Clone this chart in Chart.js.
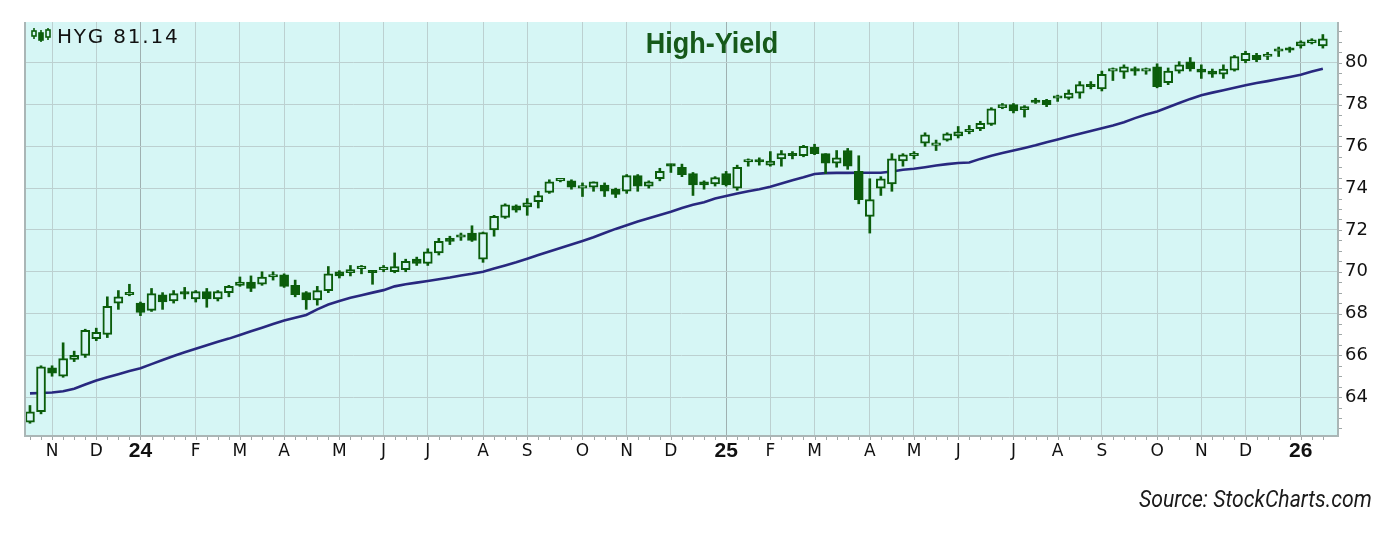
<!DOCTYPE html>
<html><head><meta charset="utf-8">
<script src="https://cdn.jsdelivr.net/npm/chart.js@4.4.0/dist/chart.umd.min.js"></script>
<style>
html,body{margin:0;padding:0;background:#fff;width:1400px;height:541px;overflow:hidden;}
#wrap{position:relative;width:1400px;height:541px;}
canvas{position:absolute;left:0;top:0;}
.t{position:absolute;white-space:nowrap;}
#title{left:712px;top:28px;font:bold 30px/30px "Liberation Sans",Arial,sans-serif;color:#16591a;transform:translateX(-50%) scaleX(0.9);}
#legend{left:57px;top:26px;font:20px/20px "DejaVu Sans",sans-serif;letter-spacing:1.8px;color:#111;}
#icon{position:absolute;left:30px;top:27px;}
#source{left:1139px;top:487px;font:italic 24px/24px Roboto,sans-serif;color:#1a1a1a;transform-origin:0 50%;transform:scaleX(0.885);}
</style></head>
<body><div id="wrap">
<canvas id="c" width="1400" height="541"></canvas>
<svg id="icon" width="22" height="16" viewBox="0 0 22 16">
 <g stroke="#0b5d0b" stroke-width="1.6" fill="none">
  <line x1="4" y1="1" x2="4" y2="12"/><rect x="2" y="4" width="4" height="5" fill="#d6f6f5"/>
  <line x1="11" y1="3" x2="11" y2="15"/><rect x="9" y="6" width="4" height="7" fill="#0b5d0b"/>
  <line x1="18" y1="1" x2="18" y2="13"/><rect x="16" y="3" width="4" height="7" fill="#d6f6f5"/>
 </g>
</svg>
<div class="t" id="legend">HYG 81.14</div>
<div class="t" id="title">High-Yield</div>
<div class="t" id="source">Source: StockCharts.com</div>
</div>
<script>
// Weekly bars, week index 0 = week of 2023-10-23
const open  = [62.8,63.3,65.4,65.0,65.8,66.0,66.8,67.0,68.5,68.9,68.5,68.15,68.9,68.6,69.0,68.7,69.05,68.7,69.0,69.35,
69.5,69.4,69.75,69.85,69.35,69.0,68.65,69.1,70.0,69.95,70.15,70.0,70.1,70.0,70.1,70.6,70.4,70.9,71.6,71.65,
71.85,70.6,72.0,72.6,73.15,73.1,73.35,73.8,74.35,74.35,74.0,74.05,74.15,73.95,73.85,74.6,74.1,74.45,75.1,75.0,
74.7,74.3,74.2,74.7,74.0,75.25,75.3,75.1,75.4,75.6,75.55,75.95,75.65,75.2,75.8,74.8,72.65,74.0,74.2,75.3,
75.55,76.15,76.05,76.3,76.5,76.7,76.85,77.05,77.85,78.0,77.75,78.2,78.2,78.3,78.3,78.55,78.95,78.75,79.6,79.55,
79.65,79.6,79.8,79.05,79.6,80.05,79.7,79.6,79.45,79.65,80.1,80.35,80.3,80.55,80.7,80.8,80.95,80.8];
const high  = [63.6,65.5,65.5,66.6,66.2,67.25,67.3,68.8,69.1,69.4,68.55,69.2,69.0,69.1,69.25,69.1,69.2,69.1,69.35,69.75,
69.8,70.0,70.0,69.9,69.6,69.05,69.3,70.25,70.05,70.3,70.3,70.05,70.3,70.9,70.6,70.7,71.1,71.6,71.7,71.85,
72.2,71.9,72.7,73.25,73.2,73.5,73.85,74.4,74.45,74.4,74.25,74.3,74.25,74.0,74.65,74.65,74.35,74.95,75.15,75.15,
74.75,74.35,74.55,74.8,75.1,75.4,75.45,75.75,75.8,75.75,76.05,76.1,75.65,75.8,75.9,75.55,74.45,74.55,75.65,75.65,
75.75,76.65,76.3,76.65,76.95,77.0,77.2,77.85,78.05,78.05,77.95,78.3,78.25,78.45,78.7,79.1,79.1,79.6,79.75,79.9,
79.8,79.75,79.95,79.75,80.05,80.25,79.9,79.7,79.9,80.35,80.55,80.45,80.5,80.75,80.75,81.05,81.15,81.35];
const low   = [62.75,63.2,65.0,64.95,65.7,65.9,66.7,66.85,68.2,68.85,67.9,68.1,68.2,68.5,68.7,68.55,68.3,68.6,68.8,69.3,
69.05,69.35,69.6,69.25,68.8,68.2,68.4,69.0,69.7,69.8,69.9,69.4,70.0,69.95,70.0,70.3,70.3,70.8,71.3,71.5,
71.45,70.45,71.7,72.55,72.85,72.7,73.05,73.75,74.3,73.95,73.6,73.85,73.6,73.55,73.75,73.85,74.0,74.35,74.75,74.55,
73.65,73.95,74.1,74.1,73.9,75.05,75.1,75.05,75.05,75.4,75.5,75.6,74.7,75.0,74.9,73.25,71.85,73.65,73.85,75.05,
75.4,76.0,75.8,76.25,76.4,76.6,76.75,77.0,77.8,77.6,77.4,78.05,77.9,78.15,78.25,78.3,78.75,78.65,79.15,79.25,
79.4,79.45,78.8,78.95,79.5,79.6,79.25,79.3,79.25,79.6,80.0,80.05,80.15,80.3,80.5,80.7,80.9,80.7];
const close = [63.3,65.45,65.15,65.85,66.0,67.2,67.1,68.35,68.8,68.95,68.05,68.95,68.55,68.95,68.93,69.05,68.7,69.05,69.3,69.5,
69.2,69.75,69.83,69.3,68.9,68.65,69.1,69.9,69.8,70.1,70.18,69.95,70.17,70.25,70.5,70.4,70.95,71.45,71.45,71.72,
71.5,71.87,72.65,73.2,72.95,73.3,73.65,74.3,74.42,74.05,74.03,74.3,73.85,73.7,74.6,74.1,74.3,74.8,75.05,74.65,
74.15,74.15,74.5,74.15,75.0,75.32,75.25,75.3,75.65,75.55,76.0,75.65,75.2,75.45,75.05,73.45,73.45,74.45,75.4,75.6,
75.62,76.55,76.07,76.6,76.7,76.72,77.1,77.8,78.0,77.7,77.9,78.1,78.0,78.32,78.55,78.95,78.85,79.45,79.62,79.8,
79.6,79.67,78.85,79.6,79.9,79.7,79.55,79.45,79.7,80.3,80.45,80.15,80.35,80.6,80.6,81.0,81.1,81.14];
const ma    = [64.18,64.2,64.22,64.28,64.4,64.6,64.8,64.95,65.1,65.25,65.38,65.58,65.78,65.97,66.15,66.32,66.48,66.65,66.8,66.97,
67.15,67.32,67.5,67.67,67.8,67.93,68.2,68.43,68.6,68.75,68.88,69.0,69.12,69.3,69.4,69.48,69.56,69.64,69.72,69.82,
69.9,70.0,70.15,70.3,70.45,70.62,70.8,70.97,71.14,71.3,71.47,71.65,71.85,72.05,72.22,72.4,72.56,72.72,72.87,73.05,
73.2,73.33,73.5,73.62,73.74,73.85,73.95,74.07,74.22,74.38,74.52,74.68,74.72,74.73,74.73,74.74,74.74,74.74,74.8,74.88,
74.93,75.0,75.08,75.15,75.2,75.23,75.4,75.55,75.68,75.8,75.92,76.05,76.2,76.33,76.47,76.6,76.73,76.87,77.0,77.15,
77.35,77.52,77.67,77.87,78.07,78.27,78.45,78.57,78.68,78.8,78.92,79.03,79.12,79.22,79.32,79.43,79.58,79.71];
// First bar of each month (week index) and its axis label
const monthTickWeek = [2,6,10,15,19,23,28,32,36,41,45,50,54,58,63,67,71,76,80,84,89,93,97,102,106,110,115];
const monthLabels   = ['N','D','24','F','M','A','M','J','J','A','S','O','N','D','25','F','M','A','M','J','J','A','S','O','N','D','26'];
const priceTicks    = [64,66,68,70,72,74,76,78,80];

const GREEN = '#0b5d0b';
const PLOT_BG = '#d6f6f5';
const isYear = i => monthLabels[i] && monthLabels[i].length === 2;

const decor = {
  id: 'decor',
  beforeDraw(chart) {
    const {ctx, chartArea: a} = chart;
    ctx.save();
    ctx.fillStyle = PLOT_BG;
    ctx.fillRect(a.left, a.top, a.right - a.left, a.bottom - a.top);
    ctx.restore();
  },
  afterDraw(chart) {
    const {ctx, chartArea: a, scales} = chart;
    ctx.save();
    ctx.strokeStyle = '#aab6b6';
    ctx.lineWidth = 2;
    ctx.beginPath();
    ctx.moveTo(a.left, a.top); ctx.lineTo(a.left, a.bottom);
    ctx.lineTo(a.right, a.bottom); ctx.lineTo(a.right, a.top);
    ctx.stroke();
    ctx.strokeStyle = '#a0a8a8';
    ctx.lineWidth = 1;
    ctx.beginPath();
    for (let i = 0; i < open.length; i++) {
      const x = Math.round(scales.x.getPixelForValue(i)) + 0.5;
      ctx.moveTo(x, a.bottom + 1); ctx.lineTo(x, a.bottom + 4);
    }
    for (let v = 62.5; v < 82; v += 0.5) {
      const y = Math.round(scales.y.getPixelForValue(v)) + 0.5;
      if (y < a.top || y > a.bottom) continue;
      ctx.moveTo(a.right + 1, y); ctx.lineTo(a.right + 4, y);
    }
    ctx.stroke();
    ctx.restore();
  }
};

new Chart(document.getElementById('c').getContext('2d'), {
  type: 'bar',
  data: {
    datasets: [
      { type: 'line', data: ma.map((v, i) => ({x: i, y: v})), borderColor: '#28287f', borderWidth: 2.6,
        pointRadius: 0, tension: 0, order: 3 },
      { type: 'bar', data: high.map((h, i) => ({x: i, y: [low[i], h]})), backgroundColor: GREEN,
        barThickness: 2, grouped: false, order: 2 },
      { type: 'bar', data: open.map((o, i) => ({x: i, y: [o, close[i]]})),
        backgroundColor: open.map((o, i) => close[i] < o ? GREEN : PLOT_BG),
        borderColor: GREEN, borderWidth: 2, borderSkipped: false, barThickness: 9,
        grouped: false, minBarLength: 2.5, order: 1 }
    ]
  },
  options: {
    responsive: false, animation: false, events: [],
    layout: { padding: { left: 25, top: 22, right: 0, bottom: 65 } },
    plugins: { legend: { display: false }, tooltip: { enabled: false }, title: { display: false } },
    scales: {
      x: {
        type: 'linear', min: -0.45, max: 118.37, offset: false,
        grid: { offset: false, drawTicks: false, lineWidth: 1,
          color: c => isYear(c.index) ? '#9fb0b0' : '#bcd0d0' },
        border: { display: false },
        afterBuildTicks: s => { s.ticks = monthTickWeek.map(v => ({value: v})); },
        afterFit: s => { s.height = 40; },
        ticks: {
          autoSkip: false, maxRotation: 0, minRotation: 0, padding: 5, color: '#111',
          callback: (v, i) => monthLabels[i],
          font: c => isYear(c.index)
            ? { family: 'Liberation Sans', size: 21, weight: 'bold', lineHeight: 0.97 }
            : { family: 'DejaVu Sans', size: 17, lineHeight: 1.2 }
        }
      },
      y: {
        position: 'right', min: 62.14, max: 81.95,
        grid: { drawTicks: false, color: '#bcd0d0', lineWidth: 1 },
        border: { display: false },
        afterBuildTicks: s => { s.ticks = priceTicks.map(v => ({value: v})); },
        afterFit: s => { s.width = 62; },
        ticks: { padding: 7, color: '#111', font: { family: 'DejaVu Sans', size: 18 } }
      }
    }
  },
  plugins: [decor]
});
</script>
</body></html>
